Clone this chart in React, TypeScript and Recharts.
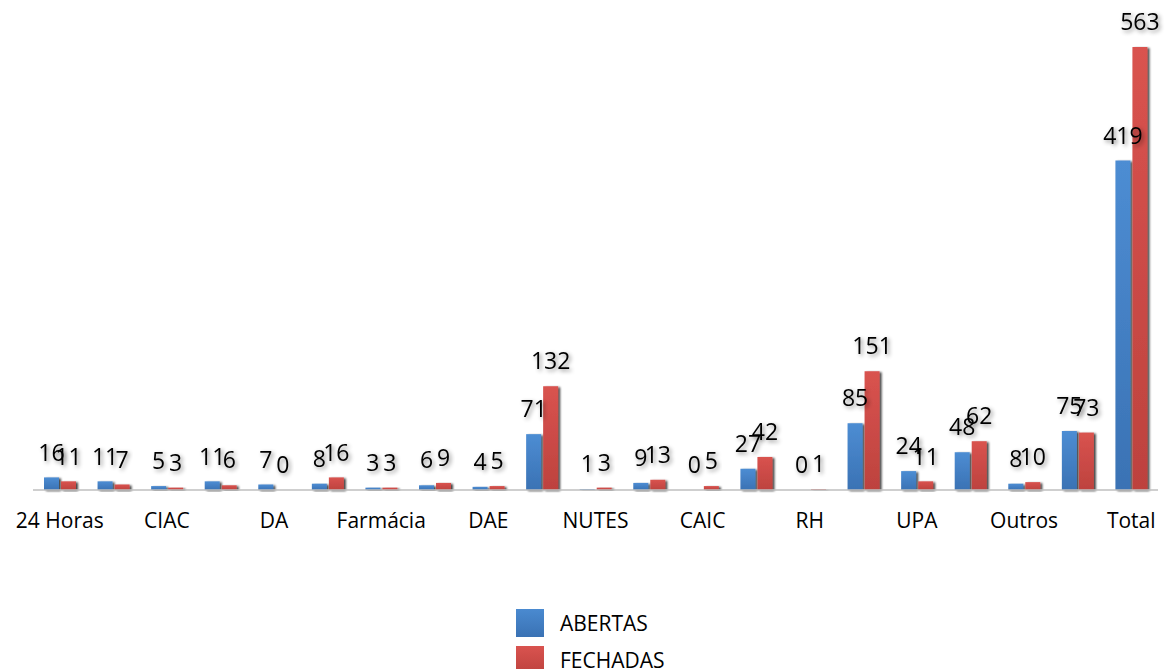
import React from 'react';
import { BarChart, Bar, XAxis, YAxis, Legend, LabelList } from 'recharts';

const categories = ['24 Horas', 'CEO', 'CIAC', 'CAPS', 'DA', 'DAF', 'Farmácia', 'DVS', 'DAE', 'DAB', 'NUTES', 'SAMU', 'CAIC', 'CTA', 'RH', 'SMS', 'UPA', 'Ouvidoria', 'Outros', 'Gabinete', 'Total'];
const abertas = [16, 11, 5, 11, 7, 8, 3, 6, 4, 71, 1, 9, 0, 27, 0, 85, 24, 48, 8, 75, 419];
const fechadas = [11, 7, 3, 6, 0, 16, 3, 9, 5, 132, 3, 13, 5, 42, 1, 151, 11, 62, 10, 73, 563];

const data = categories.map((name, i) => ({ name, abertas: abertas[i], fechadas: fechadas[i] }));

const FONT = '"Open Sans", sans-serif';

const renderLabel = (props: any) => {
  const { x, y, width, value } = props;
  return (
    <text
      x={Number(x) + Number(width) / 2}
      y={Number(y) - 23}
      textAnchor="middle"
      dominantBaseline="middle"
      fontFamily={FONT}
      fontSize={23}
      fill="#000"
      filter="url(#txtShadow)"
    >
      {String(value)}
    </text>
  );
};

const minSize = (v: any) => (v === 0 ? 0.01 : 0);

const renderLegend = () => (
  <div style={{ fontFamily: FONT, fontSize: 21, color: '#000' }}>
    {[
      { label: 'ABERTAS', bg: 'linear-gradient(#4a8ad0, #3a72b4)' },
      { label: 'FECHADAS', bg: 'linear-gradient(#d9534f, #bd423e)' },
    ].map((it) => (
      <div key={it.label} style={{ display: 'flex', alignItems: 'center', height: 37 }}>
        <div style={{ width: 28, height: 28, background: it.bg, marginRight: 16 }} />
        <span>{it.label}</span>
      </div>
    ))}
  </div>
);

export default function App() {
  return (
    <div style={{ position: 'absolute', left: 0, top: 0, width: 1165, height: 669, background: '#fff' }}>
      <BarChart
        width={1165}
        height={669}
        data={data}
        margin={{ top: 18, right: 7, bottom: 149, left: 33 }}
        barSize={15}
        barGap={2}
      >
        <defs>
          <linearGradient id="gBlue" x1="0" y1="0" x2="0" y2="1">
            <stop offset="0%" stopColor="#4d8dd3" />
            <stop offset="100%" stopColor="#3a72b4" />
          </linearGradient>
          <linearGradient id="gRed" x1="0" y1="0" x2="0" y2="1">
            <stop offset="0%" stopColor="#d9534f" />
            <stop offset="100%" stopColor="#bd423e" />
          </linearGradient>
          <filter id="barShadow" x="-50%" y="-10%" width="200%" height="130%">
            <feDropShadow dx="2" dy="1" stdDeviation="1" floodColor="#000" floodOpacity="0.75" />
          </filter>
          <filter id="txtShadow" x="-30%" y="-30%" width="160%" height="160%">
            <feDropShadow dx="2" dy="2" stdDeviation="2" floodColor="#000" floodOpacity="0.45" />
          </filter>
        </defs>
        <XAxis
          dataKey="name"
          interval={1}
          tickLine={false}
          axisLine={{ stroke: '#bfbfbf', strokeWidth: 1.5 }}
          tick={{ fontFamily: FONT, fontSize: 21, fill: '#000' }}
          tickMargin={17}
          height={30}
        />
        <YAxis
          width={0}
          domain={[0, 600]}
          tick={false}
          tickLine={false}
          axisLine={{ stroke: '#bfbfbf', strokeWidth: 2 }}
        />
        <Legend
          layout="vertical"
          align="center"
          verticalAlign="middle"
          content={renderLegend}
          wrapperStyle={{ left: 516, top: 604, width: 220 }}
        />
        <Bar dataKey="abertas" name="ABERTAS" fill="url(#gBlue)" filter="url(#barShadow)" minPointSize={minSize} isAnimationActive={false}>
          <LabelList dataKey="abertas" content={renderLabel} />
        </Bar>
        <Bar dataKey="fechadas" name="FECHADAS" fill="url(#gRed)" filter="url(#barShadow)" minPointSize={minSize} isAnimationActive={false}>
          <LabelList dataKey="fechadas" content={renderLabel} />
        </Bar>
      </BarChart>
    </div>
  );
}
